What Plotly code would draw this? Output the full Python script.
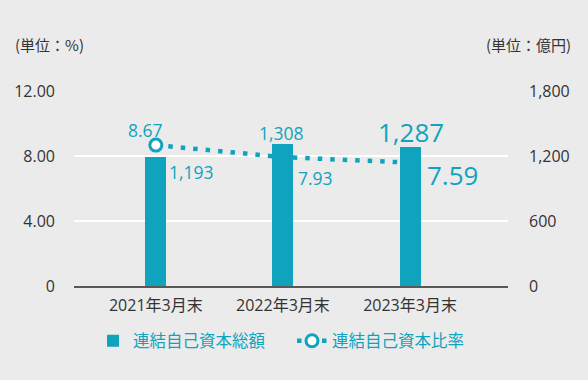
import plotly.graph_objects as go

categories = ["2021年3月末", "2022年3月末", "2023年3月末"]
equity_total = [1193, 1308, 1287]          # 連結自己資本総額 (億円)
equity_ratio = [8.67, 7.93, 7.59]          # 連結自己資本比率 (%)
equity_total_text = ["1,193", "1,308", "1,287"]
equity_ratio_text = ["8.67", "7.93", "7.59"]
left_ticks = [0, 4, 8, 12]
left_ticktext = ["0", "4.00", "8.00", "12.00"]
right_ticks = [0, 600, 1200, 1800]
right_ticktext = ["0", "600", "1,200", "1,800"]

TEAL = "#10a3bd"
BG = "#ebebeb"
DARK = "#333333"
NUM_FONT = "Open Sans, Noto Sans CJK JP, sans-serif"
JP_FONT = "Noto Sans CJK JP, sans-serif"

W, H = 588, 380
ML, MR, MT, MB = 74, 80, 91, 94
PW, PH = W - ML - MR, H - MT - MB


def px_to_paper(px, py):
    return (px - ML) / PW, (H - MB - py) / PH


fig = go.Figure()
fig.add_trace(go.Bar(
    x=categories, y=equity_total, name="連結自己資本総額",
    marker=dict(color=TEAL, line=dict(width=0)), width=0.165, yaxis="y2",
))
fig.add_trace(go.Scatter(
    x=categories, y=equity_ratio, name="連結自己資本比率", mode="lines+markers",
    line=dict(color=TEAL, width=4.5, dash="4.5px,8px"),
    marker=dict(symbol="circle", size=12, color="white", line=dict(color=TEAL, width=3)),
    yaxis="y",
))

# data labels
total_size = [17.5, 17.5, 26]
total_shift = [(36, -15), (-1, 11), (1, 15)]
ratio_size = [17.5, 17.5, 26]
ratio_shift = [(-10, 15), (33, -21), (42, -12)]
for i, c in enumerate(categories):
    fig.add_annotation(x=c, y=equity_total[i], xref="x", yref="y2",
                       text=equity_total_text[i], showarrow=False,
                       xshift=total_shift[i][0], yshift=total_shift[i][1],
                       font=dict(family=NUM_FONT, size=total_size[i], color=TEAL))
    fig.add_annotation(x=c, y=equity_ratio[i], xref="x", yref="y",
                       text=equity_ratio_text[i], showarrow=False,
                       xshift=ratio_shift[i][0], yshift=ratio_shift[i][1],
                       font=dict(family=NUM_FONT, size=ratio_size[i], color=TEAL))

# unit labels
ux, uy = px_to_paper(13, 45)
fig.add_annotation(x=ux, y=uy, xref="paper", yref="paper", text="(単位：%)",
                   showarrow=False, xanchor="left", yanchor="middle",
                   font=dict(family=JP_FONT, size=15, color=DARK))
ux, uy = px_to_paper(573, 45)
fig.add_annotation(x=ux, y=uy, xref="paper", yref="paper", text="(単位：億円)",
                   showarrow=False, xanchor="right", yanchor="middle",
                   font=dict(family=JP_FONT, size=15, color=DARK))

lx, ly = px_to_paper(93, 341)
fig.update_layout(
    width=W, height=H,
    margin=dict(l=ML, r=MR, t=MT, b=MB, autoexpand=False),
    paper_bgcolor=BG, plot_bgcolor=BG,
    showlegend=True,
    legend=dict(orientation="h", xref="paper", yref="paper",
                x=lx, y=ly, xanchor="left", yanchor="middle",
                font=dict(family=JP_FONT, size=16.5, color=TEAL),
                bgcolor="rgba(0,0,0,0)", entrywidth=154, entrywidthmode="pixels",
                traceorder="normal"),
    xaxis=dict(type="category", range=[-0.644, 2.771], showgrid=False,
               showline=True, linecolor="#595757", linewidth=2,
               ticks="", tickfont=dict(family=NUM_FONT, size=16, color=DARK),
               ticklabelstandoff=4, fixedrange=True),
    yaxis=dict(range=[0, 12], tickvals=left_ticks, ticktext=left_ticktext,
               showgrid=True, gridcolor="white", gridwidth=2, zeroline=False,
               tickfont=dict(family=NUM_FONT, size=16, color=DARK),
               ticklabelstandoff=18, showline=False, fixedrange=True),
    yaxis2=dict(range=[0, 1800], tickvals=right_ticks, ticktext=right_ticktext,
                overlaying="y", side="right", showgrid=False, zeroline=False,
                tickfont=dict(family=NUM_FONT, size=16, color=DARK),
                ticklabelstandoff=20, showline=False, fixedrange=True),
    bargap=0,
)

fig.write_html("out.html", config={"displayModeBar": False})

# remove the default page margin so the figure sits at the window's corner
with open("out.html", encoding="utf-8") as f:
    html = f.read()
html = html.replace("<head>", "<head><style>html,body{margin:0;padding:0;background:%s;}</style>" % BG, 1)
with open("out.html", "w", encoding="utf-8") as f:
    f.write(html)
